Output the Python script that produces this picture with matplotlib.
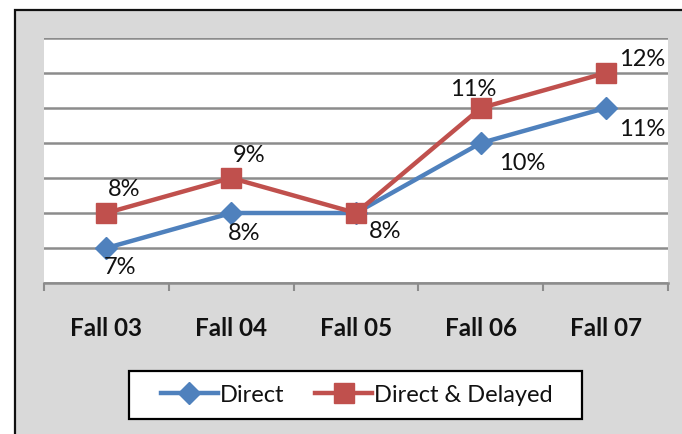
import matplotlib
matplotlib.use("Agg")
import matplotlib.pyplot as plt
from matplotlib.patches import Rectangle
from matplotlib.lines import Line2D

plt.rcParams['font.family'] = ['Lato', 'DejaVu Sans']

categories = ["Fall 03", "Fall 04", "Fall 05", "Fall 06", "Fall 07"]
direct = [7, 8, 8, 10, 11]
direct_delayed = [8, 9, 8, 11, 12]
series_names = ["Direct", "Direct & Delayed"]

# label offsets in pixels (dx, dy up), None = no label
direct_offsets = [(14, -20), (13, -20), (29, -19), (41, -21), (37, -21)]
dd_offsets = [(18, 23), (18, 22), None, (-8, 18), (37, 13)]

BLUE = "#4f81bd"
RED = "#c0504d"
W, H = 682, 434
fig = plt.figure(figsize=(W / 100, H / 100), dpi=100)
fig.patch.set_facecolor("white")

# chart area background
fig.patches.append(Rectangle((15 / W, -0.01), 1.02, (H - 10) / H + 0.01,
                             transform=fig.transFigure, facecolor="#d9d9d9",
                             edgecolor="#111111", linewidth=1.6, zorder=-10))
# legend box
fig.patches.append(Rectangle((129 / W, 1 - 419 / H), (582 - 129) / W, 48 / H,
                             transform=fig.transFigure, facecolor="white",
                             edgecolor="black", linewidth=1.6, zorder=-5))

ax = fig.add_axes([44 / W, 1 - 283 / H, (668 - 44) / W, (283 - 38) / H])
ax.set_zorder(1)
ax.set_facecolor("white")
x = list(range(len(categories)))

ax.set_xlim(-0.5, len(categories) - 0.5)
ax.set_ylim(6, 13)
ax.set_yticks(range(6, 14))
ax.yaxis.grid(True, color="#8c8c8c", linewidth=1.8)
ax.set_axisbelow(True)
ax.tick_params(axis="y", left=False, labelleft=False)
for s in ["left", "right", "top"]:
    ax.spines[s].set_visible(False)
ax.spines["bottom"].set_color("#8c8c8c")
ax.spines["bottom"].set_linewidth(1.8)

# category ticks at boundaries
ax.set_xticks([i - 0.5 for i in range(len(categories) + 1)])
ax.set_xticklabels([])
ax.tick_params(axis="x", direction="out", length=6, width=1.5, color="#8c8c8c")
for i, c in enumerate(categories):
    ax.text(i, -0.185, c, transform=ax.get_xaxis_transform(), ha="center", va="center",
            fontsize=17.5, fontweight="bold", color="#111111")

ax.plot(x, direct, color=BLUE, linewidth=3.2, marker="D", markersize=11,
        markerfacecolor=BLUE, markeredgecolor=BLUE, zorder=3, clip_on=False)
ax.plot(x, direct_delayed, color=RED, linewidth=3.2, marker="s", markersize=15,
        markerfacecolor=RED, markeredgecolor=RED, zorder=4, clip_on=False)

for vals, offs in [(direct, direct_offsets), (direct_delayed, dd_offsets)]:
    for i, (v, o) in enumerate(zip(vals, offs)):
        if o is None:
            continue
        ax.annotate(f"{v}%", (i, v), xytext=(o[0] * 0.72, o[1] * 0.72),
                    textcoords="offset points", ha="center", va="center",
                    fontsize=17, color="#111111", zorder=5)

handles = [Line2D([], [], color=BLUE, linewidth=3.2, marker="D", markersize=11),
           Line2D([], [], color=RED, linewidth=3.2, marker="s", markersize=15)]
leg = fig.legend(handles, series_names, loc="center", bbox_to_anchor=(357 / W, 1 - 395 / H),
                 ncol=2, frameon=False, fontsize=17, handlelength=2.4,
                 handletextpad=0.1, columnspacing=1.3, borderpad=0.3)
for t in leg.get_texts():
    t.set_color("#111111")

fig.savefig("out.png", dpi=100, facecolor=fig.get_facecolor())
